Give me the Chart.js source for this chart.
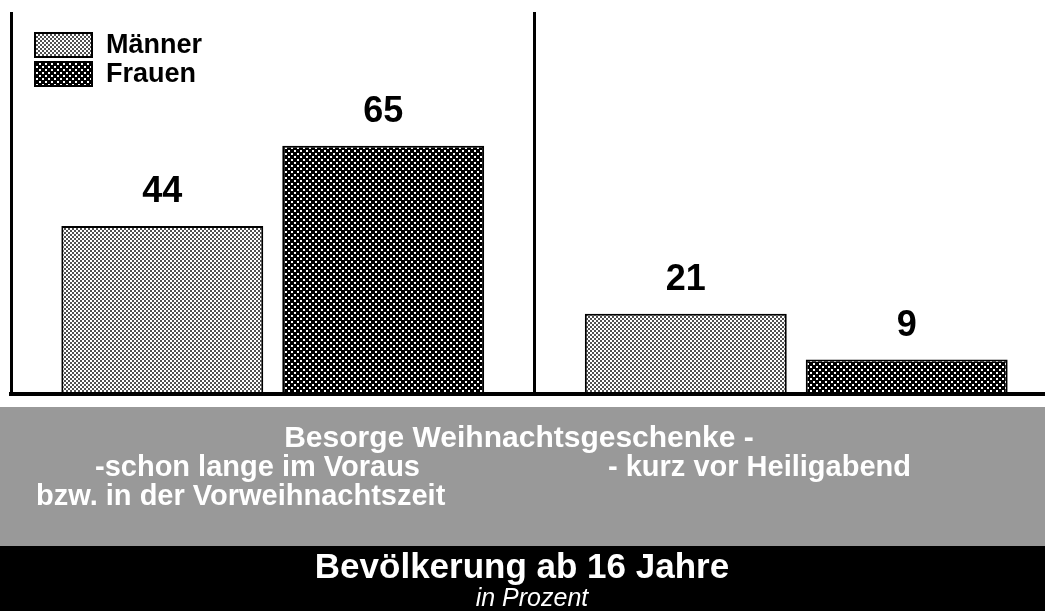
<!DOCTYPE html>
<html>
<head>
<meta charset="utf-8">
<script src="https://cdn.jsdelivr.net/npm/chart.js@4.4.0/dist/chart.umd.min.js"></script>
<style>
  html, body { margin: 0; padding: 0; overflow: hidden; background: #fff; }
  #wrap { width: 1060px; height: 611px; }
</style>
</head>
<body>
<div id="wrap"><canvas id="c" width="1060" height="611"></canvas></div>
<script>
// data
var categories = ['schon lange im Voraus', 'kurz vor Heiligabend'];
var seriesNames = ['Männer', 'Frauen'];
var maenner = [44, 21];
var frauen = [65, 9];

var headline = 'Besorge Weihnachtsgeschenke -';
var catTexts = [['-schon lange im Voraus', 'bzw. in der Vorweihnachtszeit'], ['- kurz vor Heiligabend']];
var footTitle = 'Bevölkerung ab 16 Jahre';
var footSub = 'in Prozent';

var FONT = '"Liberation Sans", Arial, Helvetica, sans-serif';

// small repeating tile -> canvas pattern
function makePattern(size, bg, fg, cells) {
    var c = document.createElement('canvas');
    c.width = size; c.height = size;
    var x = c.getContext('2d');
    x.fillStyle = bg;
    x.fillRect(0, 0, size, size);
    x.fillStyle = fg;
    for (var i = 0; i < cells.length; i++) {
        x.fillRect(cells[i][0], cells[i][1], cells[i][2], cells[i][3]);
    }
    return x.createPattern(c, 'repeat');
}

var ctx = document.getElementById('c').getContext('2d');
var patM = makePattern(4, '#ffffff', '#505050', [[0, 0, 2, 2], [2, 2, 2, 2]]);
var patF = makePattern(6, '#000000', '#ffffff', [[0, 0, 2, 2], [3, 3, 2, 2]]);

var decorPlugin = {
    id: 'decor',
    beforeDraw: function (chart) {
        var c = chart.ctx;
        c.save();
        c.fillStyle = '#ffffff';
        c.fillRect(0, 0, chart.width, chart.height);
        c.restore();
    },
    afterDraw: function (chart) {
        var c = chart.ctx;
        c.save();
        // value labels
        c.fillStyle = '#000';
        c.font = 'bold 36px ' + FONT;
        c.textAlign = 'center';
        c.textBaseline = 'alphabetic';
        chart.data.datasets.forEach(function (ds, di) {
            var meta = chart.getDatasetMeta(di);
            meta.data.forEach(function (bar, i) {
                c.fillText(String(ds.data[i]), bar.x, bar.y - 24);
            });
        });

        // legend inside plot
        c.font = 'bold 27px ' + FONT;
        c.textAlign = 'left';
        c.textBaseline = 'middle';
        chart.data.datasets.forEach(function (ds, di) {
            var y = 32 + di * 29;
            c.fillStyle = ds.backgroundColor;
            c.fillRect(34, y, 59, 26);
            c.strokeStyle = '#000';
            c.lineWidth = 2;
            c.strokeRect(35, y + 1, 57, 24);
            c.fillStyle = '#000';
            c.fillText(ds.label, 106, y + 14);
        });

        // bands
        c.fillStyle = '#999999';
        c.fillRect(0, 407, chart.width, 139);
        c.fillStyle = '#000000';
        c.fillRect(0, 546, chart.width, chart.height - 546);

        c.fillStyle = '#ffffff';
        c.textBaseline = 'alphabetic';
        c.textAlign = 'center';
        c.font = 'bold 30px ' + FONT;
        c.fillText(headline, 519, 447);
        c.font = 'bold 29px ' + FONT;
        c.textAlign = 'left';
        c.fillText(catTexts[0][0], 95, 476);
        c.fillText(catTexts[0][1], 36, 505);
        c.fillText(catTexts[1][0], 608, 476);

        c.textAlign = 'center';
        c.font = 'bold 35px ' + FONT;
        c.fillText(footTitle, 522, 578);
        c.font = 'italic 25px ' + FONT;
        c.fillText(footSub, 532, 606);
        c.restore();
    }
};

var chart = new Chart(ctx, {
    type: 'bar',
    data: {
        labels: categories,
        datasets: [{
            label: seriesNames[0],
            data: maenner,
            backgroundColor: patM,
            borderColor: '#000',
            borderWidth: 2
        }, {
            label: seriesNames[1],
            data: frauen,
            backgroundColor: patF,
            borderColor: '#000',
            borderWidth: 2
        }]
    },
    options: {
        responsive: false,
        animation: false,
        devicePixelRatio: 1,
        categoryPercentage: 0.844,
        barPercentage: 0.914,
        layout: { padding: { left: 11, top: 12, right: 2, bottom: 217 } },
        plugins: {
            legend: { display: false },
            tooltip: { enabled: false }
        },
        scales: {
            x: {
                grid: {
                    offset: true,
                    color: '#000',
                    lineWidth: 3,
                    drawTicks: false
                },
                border: { display: true, color: '#000', width: 4, z: 1 },
                ticks: { display: false }
            },
            y: {
                display: false,
                min: 0,
                max: 100
            }
        }
    },
    plugins: [decorPlugin]
});
</script>
</body>
</html>
